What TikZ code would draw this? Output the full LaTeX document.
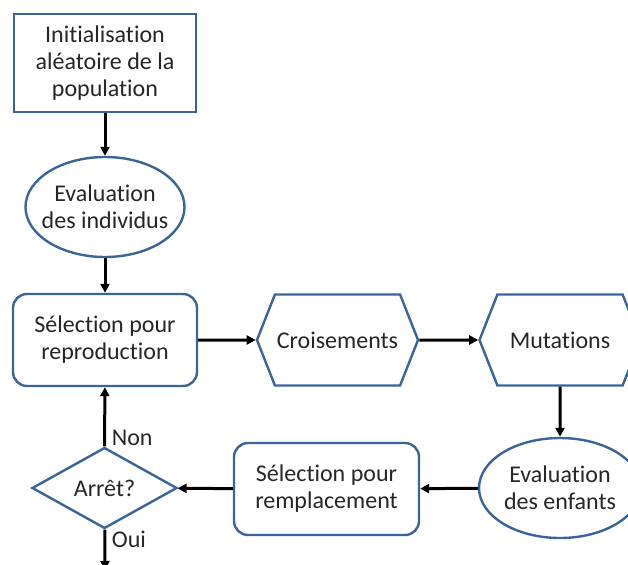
\documentclass[tikz,border=0pt]{standalone}
\usepackage{fontspec}
\setmainfont{Carlito}[Ligatures={NoCommon,NoContextual}]
\usetikzlibrary{shapes.geometric, shapes.symbols, arrows.meta}
\definecolor{boxblue}{HTML}{3B6497}
\definecolor{inkgray}{HTML}{262626}

\begin{document}
\begin{tikzpicture}[x=1pt, y=-1pt,
  font=\fontsize{24}{27}\selectfont,
  every node/.style={draw=boxblue, line width=2.4pt, fill=white, text=inkgray, align=center, inner sep=2pt},
  initbox/.style={rectangle, minimum width=182pt, minimum height=98pt},
  evalbox/.style={ellipse, minimum width=159pt, minimum height=100pt, inner xsep=-10pt, inner ysep=0pt},
  selbox/.style={rectangle, rounded corners=14pt, minimum width=184pt, minimum height=92pt},
  opbox/.style={signal, signal to=east and west, signal pointer angle=137, minimum width=161pt, minimum height=91pt},
  testbox/.style={diamond, aspect=1.8, minimum width=145pt, minimum height=81pt, inner sep=0pt},
  flow/.style={black, line width=3pt, -{Triangle[length=9pt, width=9pt]}},
  tag/.style={draw=none, fill=none, text=inkgray}
]
  \clip (0,0) rectangle (628,564);

  % main loop
  \node[initbox] (init) at (105,63) {Initialisation\\aléatoire de la\\population};
  \node[evalbox] (evalpop) at (105,207) {Evaluation\\des individus};
  \node[selbox] (selrep) at (105,340) {Sélection pour\\reproduction};
  \node[opbox] (cross) at (337.5,340) {Croisements};
  \node[opbox] (mut) at (560,340) {Mutations};
  \node[evalbox, minimum width=162pt] (evalkid) at (560,488) {Evaluation\\des enfants};
  \node[selbox, minimum width=185pt] (selrem) at (326.5,489) {Sélection pour\\remplacement};
  \node[testbox] (stop) at (104.5,488) {Arrêt?};
  \coordinate (done) at (105,570);

  \draw[flow] (init) -- (evalpop);
  \draw[flow] (evalpop) -- (selrep);
  \draw[flow] (selrep) -- (cross);
  \draw[flow] (cross) -- (mut);
  \draw[flow] (mut) -- (evalkid);
  \draw[flow] (evalkid) -- (selrem);
  \draw[flow] (selrem) -- (stop);
  \draw[flow] (stop) -- (selrep) node[tag, pos=0, anchor=south west, xshift=4pt, yshift=-2pt] {Non};
  \draw[flow] (stop) -- (done) node[tag, pos=0, anchor=north west, xshift=4pt, yshift=2pt] {Oui};
\end{tikzpicture}
\end{document}
